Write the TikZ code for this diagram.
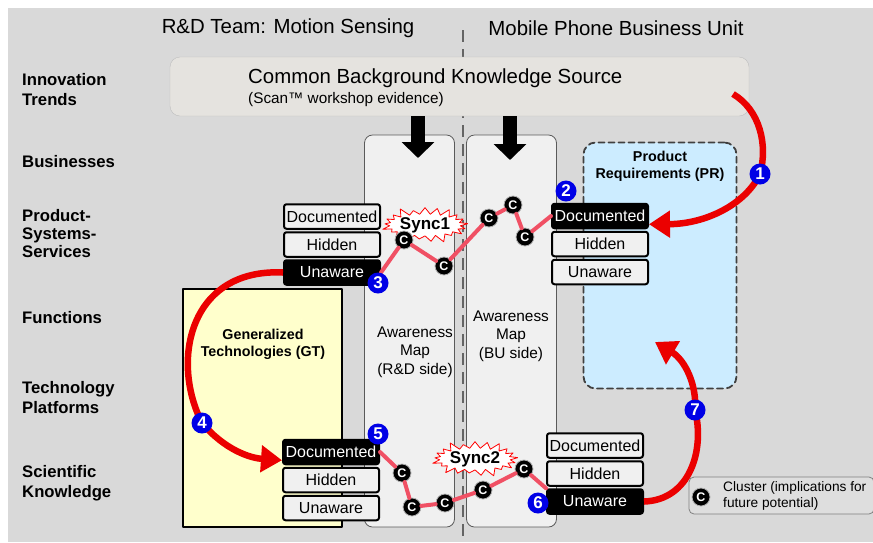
\documentclass[tikz,border=0pt]{standalone}
\usepackage{fontspec}
\setmainfont{Liberation Sans}
\usetikzlibrary{arrows.meta, positioning, calc, shapes.symbols}

\definecolor{bggrey}{RGB}{217,217,217}
\definecolor{srcfill}{RGB}{229,227,223}
\definecolor{srcedge}{RGB}{190,190,190}
\definecolor{mapfill}{RGB}{240,240,240}
\definecolor{mapedge}{RGB}{90,90,90}
\definecolor{prfill}{RGB}{204,236,255}
\definecolor{predge}{RGB}{64,64,64}
\definecolor{gtfill}{RGB}{255,255,204}
\definecolor{lvlgrey}{RGB}{240,240,240}
\definecolor{numblue}{RGB}{0,0,230}
\definecolor{trailred}{RGB}{240,80,100}
\definecolor{flowred}{RGB}{235,0,0}
\definecolor{splitgrey}{RGB}{100,100,100}
\definecolor{legfill}{RGB}{222,222,222}

\begin{document}
\begin{tikzpicture}[x=1pt, y=-1pt, line cap=round, line join=round,
    head/.style={font=\fontsize{20.4}{23}\selectfont},
    row/.style={anchor=west, align=left, inner sep=0pt, font=\bfseries\fontsize{16.7}{20}\selectfont},
    split/.style={draw=splitgrey, line width=2.5pt, line cap=butt, dash pattern=on 12pt off 7pt},
    source/.style={draw=srcedge, fill=srcfill, rounded corners=10pt, minimum width=579pt, minimum height=59pt},
    mapcol/.style={draw=mapedge, fill=mapfill, line width=0.8pt, rounded corners=8pt, minimum width=90pt, minimum height=392pt},
    maptxt/.style={align=center, font=\fontsize{15.4}{18.5}\selectfont},
    prbox/.style={draw=predge, fill=prfill, line width=1.8pt, dash pattern=on 6pt off 4pt, rounded corners=12pt, minimum width=153pt, minimum height=246pt},
    gtbox/.style={draw=black, fill=gtfill, line width=2.5pt, minimum width=159pt, minimum height=238pt},
    boxtxt/.style={align=center, font=\bfseries\fontsize{14.3}{17}\selectfont},
    drop/.style={line width=14pt, line cap=butt, -{Triangle[width=32pt, length=16pt]}},
    lvl/.style={draw=black, fill=lvlgrey, line width=2pt, rounded corners=2.5pt, minimum width=96pt, minimum height=24.5pt, inner sep=0pt, font=\fontsize{16}{17}\selectfont},
    lvlon/.style={lvl, fill=black, text=white},
    sync/.style={starburst, starburst points=21, starburst point height=9pt, draw=red, fill=white, line width=0.8pt, minimum width=82pt, minimum height=34pt, inner sep=0pt, font=\bfseries\fontsize{17}{18}\selectfont},
    clu/.style={circle, fill=black, draw=white!70!black, line width=0.8pt, text=white, minimum size=18pt, inner sep=0pt, font=\bfseries\fontsize{12.5}{12.5}\selectfont},
    trail/.style={draw=trailred, line width=4pt},
    flow/.style={draw=flowred, line width=6.5pt, line cap=butt, -{Triangle[width=26pt, length=21pt]}},
    numdot/.style={circle, fill=numblue, text=white, minimum size=21pt, inner sep=0pt, font=\bfseries\fontsize{17}{17}\selectfont}]

  \useasboundingbox (0,0) rectangle (873,542);
  \fill[white] (0,0) rectangle (873,542);
  \fill[bggrey] (8,8) rectangle (873,542);

  % column headings and the split between them
  \node[head] (rdhead) at (288,28) {R\&D Team: Motion Sensing};
  \node[head] (buhead) at (616,28) {Mobile Phone Business Unit};
  \coordinate (splittop) at (463,30);
  \coordinate (splitbot) at (463,542);
  \draw[split] (splittop) -- (splitbot);

  % rows
  \node[row] (rtrend) at (22,90) {Innovation\\Trends};
  \node[row] (rbiz) at (22,162) {Businesses};
  \node[row, font=\bfseries\fontsize{16.7}{18}\selectfont] (rpss) at (22,234) {Product-\\Systems-\\Services};
  \node[row] (rfunc) at (22,318) {Functions};
  \node[row] (rplat) at (22,398) {Technology\\Platforms};
  \node[row] (rsci) at (22,483) {Scientific\\Knowledge};

  % shared source
  \node[source] (common) at (459.5,86.5) {};
  \node[anchor=west, inner sep=0pt, font=\fontsize{20.4}{22}\selectfont] (commonttl) at (248,78) {Common Background Knowledge Source};
  \node[anchor=west, inner sep=0pt, font=\fontsize{15.3}{16}\selectfont] (commonsub) at (248,100) {(Scan™ workshop evidence)};

  % awareness maps, PR and GT
  \node[mapcol] (rdmap) at (409.5,331) {};
  \node[mapcol] (bumap) at (511.5,331) {};
  \node[maptxt] (rdmaptxt) at (415,352) {Awareness\\Map\\(R\&D side)};
  \node[maptxt] (bumaptxt) at (511,336) {Awareness\\Map\\(BU side)};
  \node[prbox] (pr) at (660,265.5) {};
  \node[boxtxt] (prtxt) at (660,166.5) {Product\\Requirements (PR)};
  \node[gtbox] (gt) at (262.5,408) {};
  \node[boxtxt] (gttxt) at (263,344) {Generalized\\Technologies (GT)};

  \coordinate (dropA) at (418,158);
  \coordinate (dropB) at (510,160);
  \draw[drop] (common.south -| dropA) -- (dropA);
  \draw[drop] (common.south -| dropB) -- (dropB);

  % knowledge levels
  \node[lvl] (docA) at (332,216.5) {Documented};
  \node[lvl, below=1.5pt of docA] (hidA) {Hidden};
  \node[lvlon, below=1.5pt of hidA] (unaA) {Unaware};
  \node[lvlon] (docB) at (600,216) {Documented};
  \node[lvl, below=1.5pt of docB] (hidB) {Hidden};
  \node[lvl, below=1.5pt of hidB] (unaB) {Unaware};
  \node[lvlon] (docC) at (331,452) {Documented};
  \node[lvl, below=1.5pt of docC] (hidC) {Hidden};
  \node[lvl, below=1.5pt of hidC] (unaC) {Unaware};
  \node[lvl] (docD) at (595,445.5) {Documented};
  \node[lvl, below=1.5pt of docD] (hidD) {Hidden};
  \node[lvlon, below=1.5pt of hidD] (unaD) {Unaware};

  \node[sync] (sync1) at (425,225) {Sync1};
  \node[sync] (sync2) at (475,459) {Sync2};

  % clusters and their trails
  \foreach \i/\p in {1/{404,240}, 2/{444,266}, 3/{489,218}, 4/{513,205}, 5/{525,237},
      6/{402,473}, 7/{412,507}, 8/{445,503}, 9/{483,490}, 10/{524,469}}
    \node[clu] (c\i) at (\p) {C};
  \draw[trail] (unaA.east) -- (c1) -- (c2) -- (c3) -- (c4) -- (c5) -- (docB.west);
  \draw[trail] (docC.east) -- (c6) -- (c7) -- (c8) -- (c9) -- (c10) -- (unaD.north west);

  % numbered moves
  \coordinate (p1) at (760,174);
  \coordinate (p2) at (566,191);
  \coordinate (p3) at (378,283);
  \coordinate (p4) at (202,423);
  \coordinate (p5) at (378,434);
  \coordinate (p6) at (538,503);
  \coordinate (p7) at (695,410);
  \coordinate (trendsrc) at (733,94);
  \coordinate (prtip) at ($(docB.south east)+(0,-5)$);
  \coordinate (gttip) at ($(docC.south west)+(0,-5)$);
  \coordinate (prback) at (655,342);
  \draw[flow, -] (trendsrc) .. controls (760,110) and (768,145) .. (p1);
  \draw[flow] (p1) .. controls (745,205) and (705,224) .. (prtip);
  \draw[flow, -] (unaA.west) .. controls (190,268) and (170,360) .. (p4);
  \draw[flow] (p4) .. controls (225,450) and (250,458) .. (gttip);
  \draw[flow, -] (unaD.east) .. controls (690,500) and (705,450) .. (p7);
  \draw[flow] (p7) .. controls (697,385) and (685,360) .. (prback);
  \foreach \i in {1,...,7}
    \node[numdot] (n\i) at (p\i) {\i};

  % legend
  \node[draw=gray, fill=legfill, line width=0.8pt, rounded corners=5pt, minimum width=185pt, minimum height=37pt] (legbox) at (781.5,495.5) {};
  \node[clu] (legc) at (701,497) {C};
  \node[anchor=west, align=left, inner sep=0pt, font=\fontsize{13.7}{16}\selectfont] (legtxt) at (723,496) {Cluster (implications for\\future potential)};
\end{tikzpicture}
\end{document}
